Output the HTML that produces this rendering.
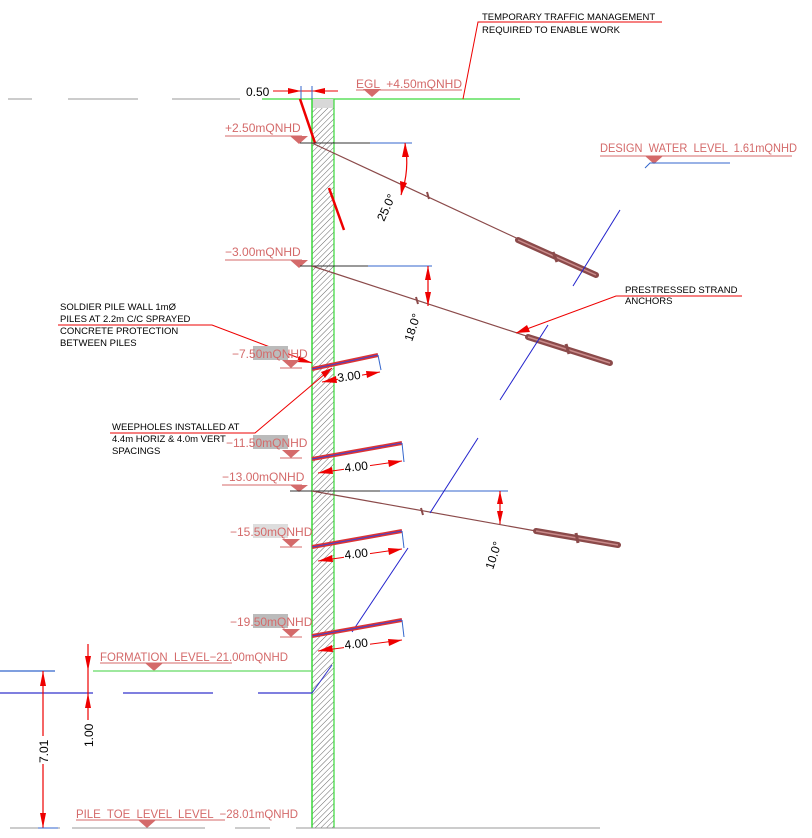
<!DOCTYPE html>
<html><head><meta charset="utf-8"><style>
html,body{margin:0;padding:0;background:#fff;}
svg{display:block;}
text{font-family:"Liberation Sans",sans-serif;white-space:pre;}
.lv{fill:#d46a6a;font-size:12px;}
.nt{fill:#000;font-size:9.5px;}
.dm{fill:#000;font-size:12px;}
</style></head><body>
<svg width="812" height="838" viewBox="0 0 812 838" xmlns="http://www.w3.org/2000/svg" xml:space="preserve">
<defs>
<pattern id="h" width="4" height="4" patternUnits="userSpaceOnUse" patternTransform="rotate(45)">
<rect width="4" height="4" fill="#fff"/><line x1="0" y1="0" x2="0" y2="4" stroke="#666" stroke-width="1"/>
</pattern>
</defs>
<g stroke="#999" stroke-width="1">
<line x1="8" y1="99" x2="32" y2="99"/><line x1="68" y1="99" x2="138" y2="99"/><line x1="172" y1="99" x2="240" y2="99"/>
</g>
<line x1="262" y1="99" x2="520" y2="99" stroke="#5ee05e" stroke-width="1.5"/>
<rect x="312" y="99" width="22" height="729" fill="url(#h)"/>
<rect x="312" y="99" width="22" height="9" fill="#d8d8d8"/>
<line x1="312" y1="99" x2="312" y2="828" stroke="#3ad83a" stroke-width="1.5"/>
<line x1="334" y1="99" x2="334" y2="828" stroke="#3ad83a" stroke-width="1.2"/>
<text x="246" y="96" class="dm">0.50</text>
<line x1="273" y1="91" x2="338" y2="91" stroke="#e00" stroke-width="1"/>
<polygon points="301,91 288,88 288,94" fill="#e00"/><polygon points="312,91 325,88 325,94" fill="#e00"/>
<line x1="301" y1="86" x2="301" y2="99" stroke="#36c" stroke-width="1"/><line x1="312" y1="86" x2="312" y2="99" stroke="#36c" stroke-width="1"/>
<line x1="300" y1="99" x2="315" y2="143" stroke="#e00" stroke-width="2.5"/>
<line x1="329" y1="188" x2="344" y2="230" stroke="#e00" stroke-width="2.5"/>
<text x="356" y="88" class="lv" textLength="106" lengthAdjust="spacingAndGlyphs">EGL  +4.50mQNHD</text>
<line x1="356" y1="90" x2="462" y2="90" stroke="#d46a6a"/>
<polygon points="363,89 381,89 372,97" fill="#d46a6a"/>
<polyline points="463,99 478,22 662,22" fill="none" stroke="#e00" stroke-width="1"/>
<text x="482" y="20" class="nt">TEMPORARY TRAFFIC MANAGEMENT</text>
<text x="482" y="33" class="nt">REQUIRED TO ENABLE WORK</text>
<text x="225" y="132" class="lv">+2.50mQNHD</text>
<line x1="225" y1="136" x2="302" y2="136" stroke="#d46a6a"/>
<polygon points="290,136 308,136 299,144" fill="#d46a6a"/>
<line x1="300" y1="143" x2="370" y2="143" stroke="#333"/><line x1="370" y1="143" x2="412" y2="143" stroke="#36c"/>
<line x1="312" y1="143" x2="598" y2="276" stroke="#8b4a4a" stroke-width="1.2"/>
<line x1="518" y1="240" x2="596" y2="275" stroke="#8b4a4a" stroke-width="6" stroke-linecap="round"/>
<line x1="518" y1="240" x2="596" y2="275" stroke="#c98a8a" stroke-width="1.5"/>
<line x1="553" y1="252" x2="557" y2="262" stroke="#8b4a4a" stroke-width="3"/>
<line x1="427" y1="192" x2="429" y2="199" stroke="#8b4a4a" stroke-width="2"/>
<path d="M405,143 Q410,170 401,195" fill="none" stroke="#e00" stroke-width="1.2"/>
<polygon points="405,143 402,157 409,157" fill="#e00"/><polygon points="401,195 400,181 407,183" fill="#e00"/>
<text class="dm" transform="translate(384,222) rotate(-65)">25.0°</text>
<text x="600" y="152" class="lv" textLength="197" lengthAdjust="spacingAndGlyphs">DESIGN  WATER  LEVEL  1.61mQNHD</text>
<line x1="600" y1="156" x2="792" y2="156" stroke="#d46a6a"/>
<polygon points="645,156 663,156 654,164" fill="#d46a6a"/>
<polyline points="645,168 650,163 730,163" fill="none" stroke="#36c"/>
<line x1="573" y1="286" x2="620" y2="210" stroke="#22c" stroke-width="1"/>
<text x="225" y="256" class="lv">−3.00mQNHD</text>
<line x1="225" y1="260" x2="302" y2="260" stroke="#d46a6a"/>
<polygon points="290,260 308,260 299,268" fill="#d46a6a"/>
<line x1="300" y1="266" x2="368" y2="266" stroke="#333"/><line x1="368" y1="266" x2="432" y2="266" stroke="#36c"/>
<line x1="312" y1="266" x2="612" y2="364" stroke="#8b4a4a" stroke-width="1.2"/>
<line x1="528" y1="337" x2="610" y2="363" stroke="#8b4a4a" stroke-width="6" stroke-linecap="round"/>
<line x1="528" y1="337" x2="610" y2="363" stroke="#c98a8a" stroke-width="1.5"/>
<line x1="566" y1="344" x2="569" y2="354" stroke="#8b4a4a" stroke-width="3"/>
<line x1="416" y1="297" x2="418" y2="304" stroke="#8b4a4a" stroke-width="2"/>
<line x1="428" y1="266" x2="428" y2="306" stroke="#e00" stroke-width="1.2"/>
<polygon points="428,266 425,280 431,280" fill="#e00"/><polygon points="428,306 425,292 431,292" fill="#e00"/>
<text class="dm" transform="translate(412,342) rotate(-72)">18.0°</text>
<text x="625" y="293" class="nt">PRESTRESSED STRAND</text>
<text x="625" y="304" class="nt">ANCHORS</text>
<polyline points="742,296 616,296 516,333" fill="none" stroke="#e00"/>
<polygon points="516,333 527,325 530,332" fill="#e00"/>
<line x1="500" y1="400" x2="548" y2="325" stroke="#22c"/>
<text x="60" y="310" class="nt">SOLDIER PILE WALL 1mØ</text>
<text x="60" y="322" class="nt">PILES AT 2.2m C/C SPRAYED</text>
<text x="60" y="334" class="nt">CONCRETE PROTECTION</text>
<text x="60" y="346" class="nt">BETWEEN PILES</text>
<polyline points="58,325 212,325 312,363" fill="none" stroke="#e00"/>
<polygon points="312,363 299,356 297,362" fill="#e00"/>
<text x="112" y="430" class="nt">WEEPHOLES INSTALLED AT</text>
<text x="112" y="442" class="nt">4.4m HORIZ &amp; 4.0m VERT</text>
<text x="112" y="454" class="nt">SPACINGS</text>
<polyline points="110,433 255,433 332,368" fill="none" stroke="#e00"/>
<polygon points="332,368 321,372 325,378" fill="#e00"/>
<rect x="253" y="346" width="35" height="14" fill="#bbb"/>
<text x="232" y="358" class="lv">−7.50mQNHD</text>
<polygon points="282,360 300,360 291,368" fill="#d46a6a"/><line x1="280" y1="368" x2="302" y2="368" stroke="#d46a6a"/>
<rect x="253" y="435" width="35" height="14" fill="#bbb"/>
<text x="226" y="447" class="lv">−11.50mQNHD</text>
<polygon points="282,450 300,450 291,458" fill="#d46a6a"/><line x1="280" y1="458" x2="302" y2="458" stroke="#d46a6a"/>
<text x="222" y="481" class="lv">−13.00mQNHD</text>
<line x1="222" y1="485" x2="302" y2="485" stroke="#d46a6a"/>
<polygon points="290,485 308,485 299,492" fill="#d46a6a"/>
<line x1="290" y1="491" x2="380" y2="491" stroke="#333"/><line x1="380" y1="491" x2="508" y2="491" stroke="#36c"/>
<line x1="312" y1="491" x2="620" y2="546" stroke="#8b4a4a" stroke-width="1.2"/>
<line x1="536" y1="531" x2="618" y2="545" stroke="#8b4a4a" stroke-width="6" stroke-linecap="round"/>
<line x1="536" y1="531" x2="618" y2="545" stroke="#c98a8a" stroke-width="1.5"/>
<line x1="576" y1="533" x2="578" y2="543" stroke="#8b4a4a" stroke-width="3"/>
<line x1="421" y1="508" x2="423" y2="515" stroke="#8b4a4a" stroke-width="2"/>
<line x1="500" y1="491" x2="500" y2="524" stroke="#e00" stroke-width="1.2"/>
<polygon points="500,491 497,504 503,504" fill="#e00"/><polygon points="500,524 497,511 503,511" fill="#e00"/>
<text class="dm" transform="translate(493,570) rotate(-72)">10.0°</text>
<line x1="430" y1="513" x2="478" y2="438" stroke="#22c"/>
<rect x="253" y="524" width="35" height="14" fill="#ddd"/>
<text x="230" y="536" class="lv">−15.50mQNHD</text>
<polygon points="282,539 300,539 291,547" fill="#d46a6a"/><line x1="280" y1="547" x2="302" y2="547" stroke="#d46a6a"/>
<rect x="253" y="614" width="35" height="14" fill="#bbb"/>
<text x="230" y="626" class="lv">−19.50mQNHD</text>
<polygon points="282,629 300,629 291,637" fill="#d46a6a"/><line x1="280" y1="637" x2="302" y2="637" stroke="#d46a6a"/>
<line x1="352" y1="632" x2="408" y2="548" stroke="#22c"/>
<g>
<line x1="312" y1="369" x2="378" y2="355" stroke="#d33" stroke-width="4"/>
<line x1="312" y1="369" x2="378" y2="355" stroke="#44c" stroke-width="1"/>
<line x1="378" y1="355" x2="381" y2="370" stroke="#36c"/>
<line x1="322" y1="382" x2="380" y2="372" stroke="#e00"/>
<polygon points="322,382 336,376 337,383" fill="#e00"/><polygon points="380,372 366,371 367,378" fill="#e00"/>
<rect x="338" y="369" width="24" height="13" fill="#fff"/>
<text class="dm" transform="translate(338,382) rotate(-8)">3.00</text>
<line x1="312" y1="459" x2="402" y2="443" stroke="#d33" stroke-width="4"/>
<line x1="312" y1="459" x2="402" y2="443" stroke="#44c" stroke-width="1"/>
<line x1="402" y1="443" x2="404" y2="462" stroke="#36c"/>
<line x1="318" y1="473" x2="402" y2="461" stroke="#e00"/>
<polygon points="318,473 332,467 333,474" fill="#e00"/><polygon points="402,461 388,460 389,467" fill="#e00"/>
<rect x="344" y="459" width="26" height="13" fill="#fff"/>
<text class="dm" transform="translate(345,472) rotate(-6)">4.00</text>
<line x1="312" y1="547" x2="402" y2="531" stroke="#d33" stroke-width="4"/>
<line x1="312" y1="547" x2="402" y2="531" stroke="#44c" stroke-width="1"/>
<line x1="402" y1="531" x2="404" y2="548" stroke="#36c"/>
<line x1="318" y1="561" x2="402" y2="549" stroke="#e00"/>
<polygon points="318,561 332,555 333,562" fill="#e00"/><polygon points="402,549 388,548 389,555" fill="#e00"/>
<rect x="344" y="546" width="26" height="13" fill="#fff"/>
<text class="dm" transform="translate(345,559) rotate(-6)">4.00</text>
<line x1="312" y1="636" x2="402" y2="620" stroke="#d33" stroke-width="4"/>
<line x1="312" y1="636" x2="402" y2="620" stroke="#44c" stroke-width="1"/>
<line x1="402" y1="620" x2="404" y2="637" stroke="#36c"/>
<line x1="318" y1="651" x2="402" y2="640" stroke="#e00"/>
<polygon points="318,651 332,645 333,652" fill="#e00"/><polygon points="402,640 388,639 389,646" fill="#e00"/>
<rect x="344" y="636" width="26" height="13" fill="#fff"/>
<text class="dm" transform="translate(345,649) rotate(-6)">4.00</text>
</g>
<text x="100" y="661" class="lv" textLength="188" lengthAdjust="spacingAndGlyphs">FORMATION  LEVEL−21.00mQNHD</text>
<line x1="100" y1="663" x2="232" y2="663" stroke="#d46a6a"/>
<polygon points="145,663 163,663 154,671" fill="#d46a6a"/>
<line x1="0" y1="671" x2="55" y2="671" stroke="#36c" stroke-width="1.2"/>
<line x1="93" y1="671" x2="312" y2="671" stroke="#7ee07e" stroke-width="1.5"/>
<g stroke="#33c" stroke-width="1.2"><line x1="0" y1="693" x2="93" y2="693"/><line x1="123" y1="693" x2="213" y2="693"/><line x1="258" y1="693" x2="312" y2="693"/></g>
<line x1="312" y1="693" x2="332" y2="665" stroke="#33c"/>
<line x1="43" y1="671" x2="43" y2="828" stroke="#e00" stroke-width="1.2"/>
<polygon points="43,671 40,686 46,686" fill="#e00"/><polygon points="43,828 40,813 46,813" fill="#e00"/>
<rect x="36" y="736" width="14" height="28" fill="#fff"/>
<text class="dm" transform="translate(48,763) rotate(-90)">7.01</text>
<line x1="88" y1="644" x2="88" y2="725" stroke="#e00" stroke-width="1.2"/>
<polygon points="88,671 85,656 91,656" fill="#e00"/><polygon points="88,693 85,708 91,708" fill="#e00"/>
<rect x="81" y="720" width="14" height="28" fill="#fff"/>
<text class="dm" transform="translate(93,747) rotate(-90)">1.00</text>
<text x="76" y="818" class="lv" textLength="222" lengthAdjust="spacingAndGlyphs">PILE  TOE  LEVEL  LEVEL  −28.01mQNHD</text>
<line x1="76" y1="820" x2="225" y2="820" stroke="#d46a6a"/>
<polygon points="138,820 156,820 147,828" fill="#d46a6a"/>
<g stroke="#999" stroke-width="1"><line x1="10" y1="828" x2="60" y2="828"/><line x1="72" y1="828" x2="205" y2="828"/><line x1="235" y1="828" x2="270" y2="828"/><line x1="296" y1="828" x2="600" y2="828"/></g>
<line x1="38" y1="828" x2="58" y2="828" stroke="#36c"/>
</svg>
</body></html>
